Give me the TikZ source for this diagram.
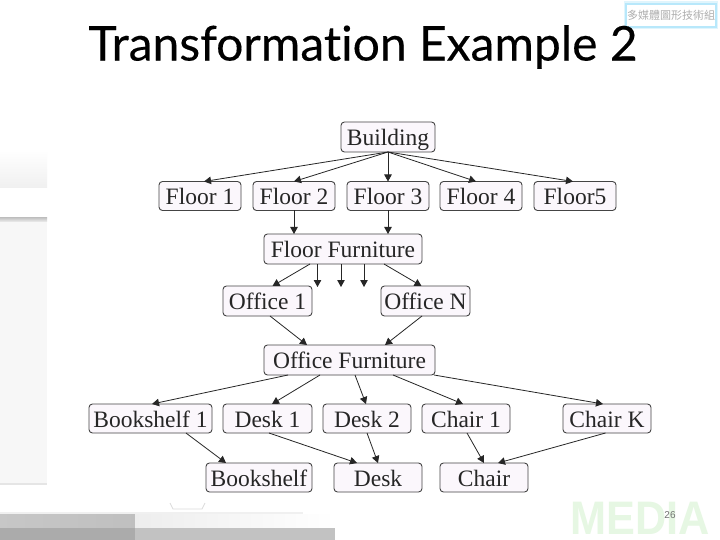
\documentclass[tikz,border=0pt]{standalone}
\usepackage{fontspec}
\setmainfont{Liberation Serif}
\newfontfamily\titlefont[FakeBold=0.25,Ligatures=NoCommon]{Lato}
\newfontfamily\pagefont{Liberation Sans}
\newfontfamily\cjkfont{Noto Sans CJK TC}
\newfontfamily\wmfont{Liberation Sans}
\usetikzlibrary{arrows.meta,shadings,calc}
\definecolor{boxfill}{HTML}{FBF7FC}
\definecolor{boxedge}{HTML}{444444}
\definecolor{wmgreen}{HTML}{E6F7E3}
\tikzset{
  px/.style={x=1pt,y=-1pt},
  nd/.style={draw=boxedge,fill=boxfill,rounded corners=3.5pt,line width=0.9pt,inner sep=0pt,outer sep=0pt,
    font=\fontsize{23.5}{24}\selectfont,text=black!85,anchor=center,text height=17.5pt,text depth=0pt},
  link/.style={draw=black!85,line width=0.8pt,-{Triangle[length=7pt,width=7.5pt]}},
  panel/.style={draw=none},
}
\newcommand{\bx}[6]{\node[nd,minimum width=#3pt-#2pt,minimum height=#5pt-#4pt] (#1) at ({(#2+#3)/2},{(#4+#5)/2}) {#6};}
\begin{document}
\begin{tikzpicture}[px]
\useasboundingbox (0,0) rectangle (720,540);
\fill[white] (0,0) rectangle (720,540);
% background remnants
\shade[panel,top color=white,bottom color=black!6] (0,150) rectangle (47,188);
\shade[panel,top color=black!22,bottom color=black!6] (0,218) rectangle (47,222);
\fill[panel,black!3] (0,222) rectangle (47,483);
\fill[panel,black!10] (0,483) rectangle (47,485);
\fill[panel,black!6] (0,512) rectangle (303,514);
\shade[panel,left color=black!22,right color=black!25] (0,514) rectangle (135,528);
\shade[panel,left color=black!7,right color=white] (135,514) rectangle (335,528);
\fill[panel,black!33] (0,528) rectangle (135,540);
\fill[panel,black!24] (135,528) rectangle (335,540);
\draw[black!14,line width=0.8pt] (170,503) -- (173,509) -- (202,509) -- (205,503);
% badge
\draw[cyan!12,line width=3pt] (625.5,3) rectangle (716.5,28);
\node[draw=cyan!28,fill=white,line width=1.5pt,minimum width=90pt,minimum height=23pt,inner sep=0pt,
  font=\cjkfont\fontsize{11}{12}\selectfont,text=black!32] (badge) at (671,15.5) {多媒體圖形技術組};
% title
\node[font=\titlefont\fontsize{48}{48}\selectfont,text=black,anchor=center,inner sep=0pt] (title) at (363,47) {Transformation Example 2};
% watermark
\node[font=\wmfont\bfseries\fontsize{47}{47}\selectfont,text=wmgreen,inner sep=0pt,xscale=0.92] (wm) at (640,518) {MEDIA};
\node[font=\pagefont\fontsize{10}{10}\selectfont,text=black!55,inner sep=0pt] (pg) at (670,515) {26};
% boxes
\bx{bld}{341}{435}{122}{152}{Building}
\bx{fa}{159}{241}{181.5}{210.5}{Floor 1}
\bx{fb}{253}{335}{181.5}{210.5}{Floor 2}
\bx{fc}{347}{429}{181.5}{210.5}{Floor 3}
\bx{fd}{440}{522}{181.5}{210.5}{Floor 4}
\bx{fe}{534}{616}{181.5}{210.5}{Floor5}
\bx{ff}{264}{422}{234}{264}{Floor Furniture}
\bx{oa}{223}{312}{286}{316}{Office 1}
\bx{on}{381}{470}{286}{316}{Office N}
\bx{of}{264}{435}{345}{375}{Office Furniture}
\bx{ba}{89}{212}{404}{433}{Bookshelf 1}
\bx{da}{223}{312}{404}{433}{Desk 1}
\bx{db}{323}{411}{404}{433}{Desk 2}
\bx{ca}{422}{510}{404}{433}{Chair 1}
\bx{ck}{563}{651}{404}{433}{Chair K}
\bx{bs}{206}{312}{463}{492}{Bookshelf}
\bx{dk}{334}{422}{463}{492}{Desk}
\bx{ch}{440}{528}{463}{492}{Chair}
% free ends
\coordinate (e1) at (317.5,287);
\coordinate (e2) at (341,287);
\coordinate (e3) at (364,287);
% connectors
\draw[link] (bld.south) -- ([xshift=4pt]fa.north);
\draw[link] (bld.south) -- (fb.north);
\draw[link] (bld.south) -- (fc.north);
\draw[link] (bld.south) -- ([xshift=-5pt]fd.north);
\draw[link] (bld.south) -- ([xshift=-2pt]fe.north);
\draw[link] (fb.south) -- (fb.south |- ff.north);
\draw[link] (fc.south) -- (fc.south |- ff.north);
\draw[link] ([xshift=-33pt]ff.south) -- ([xshift=5pt]oa.north);
\draw[link] (ff.south -| e1) -- (e1);
\draw[link] (ff.south -| e2) -- (e2);
\draw[link] (ff.south -| e3) -- (e3);
\draw[link] ([xshift=41pt]ff.south) -- ([xshift=-4pt]on.north);
\draw[link] ([xshift=2.5pt]oa.south) -- ([xshift=-42.5pt]of.north);
\draw[link] ([xshift=-3.5pt]on.south) -- ([xshift=35.5pt]of.north);
\draw[link] ([xshift=-61.5pt]of.south) -- ([xshift=1.5pt]ba.north);
\draw[link] ([xshift=-29.5pt]of.south) -- ([xshift=4.5pt]da.north);
\draw[link] ([xshift=5.5pt]of.south) -- ([xshift=-1pt]db.north);
\draw[link] ([xshift=43.5pt]of.south) -- ([xshift=-3pt]ca.north);
\draw[link] ([xshift=84.5pt]of.south) -- ([xshift=-4pt]ck.north);
\draw[link] ([xshift=35.5pt]ba.south) -- ([xshift=-33pt]bs.north);
\draw[link] ([xshift=1.5pt]da.south) -- ([xshift=-21pt]dk.north);
\draw[link] (db.south) -- (dk.north);
\draw[link] ([xshift=1pt]ca.south) -- (ch.north);
\draw[link] ([xshift=-1.5pt]ck.south) -- ([xshift=14pt]ch.north);
\end{tikzpicture}
\end{document}
